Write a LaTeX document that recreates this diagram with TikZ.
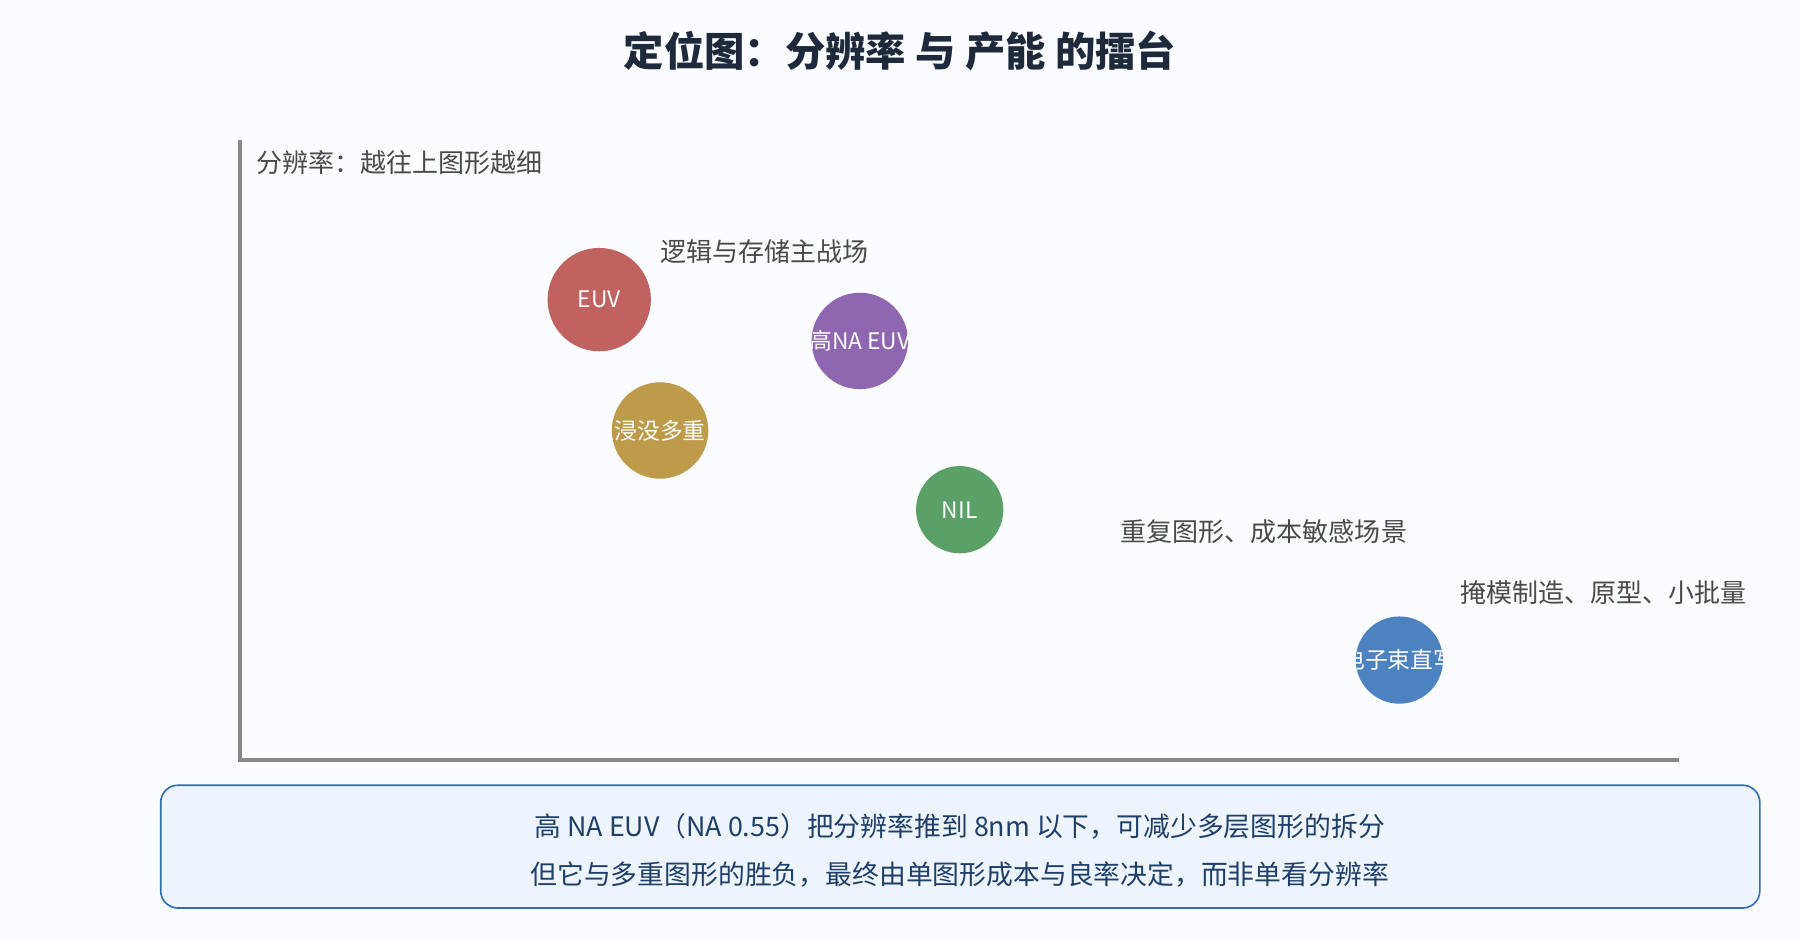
\documentclass[tikz,border=0pt]{standalone}
\usepackage{fontspec}
\setmainfont{Noto Sans CJK SC}
\definecolor{bg}{HTML}{FBFCFF}
\definecolor{ttl}{HTML}{1E293B}
\definecolor{ax}{HTML}{888888}
\definecolor{lbl}{HTML}{4A4A4A}
\definecolor{cEUV}{HTML}{C0625F}
\definecolor{cNA}{HTML}{8E67B0}
\definecolor{cIM}{HTML}{BE9B4A}
\definecolor{cNIL}{HTML}{5BA067}
\definecolor{cEB}{HTML}{4C82C0}
\definecolor{boxf}{HTML}{EEF4FE}
\definecolor{boxs}{HTML}{2F6DB5}
\definecolor{boxt}{HTML}{1F3F6B}
\begin{document}
\begin{tikzpicture}[x=0.02cm,y=-0.02cm,
  dot/.style={circle,inner sep=0,text=white,font=\fontsize{11.3}{13}\selectfont},
  note/.style={anchor=west,text=lbl,font=\fontsize{12.9}{15}\selectfont,inner sep=0}]
\fill[bg] (0,0) rectangle (1568,820);
\useasboundingbox (0,0) rectangle (1568,820);
\node[text=ttl,font=\fontsize{20}{24}\selectfont\bfseries] (title) at (784,44) {定位图：分辨率 与 产能 的擂台};
\coordinate (top) at (209,122); \coordinate (org) at (209,662); \coordinate (right) at (1463,662);
\draw[ax,line width=1.6pt] (top) -- (org) -- (right);
\node[note] (ylab) at (223,142) {分辨率：越往上图形越细};
\node[dot,fill=cEUV,minimum size=90*0.02cm] (euv) at (522,261) {EUV};
\begin{scope}
\clip (749,297) circle (42);
\node[dot,fill=cNA,minimum size=84*0.02cm] (na) at (749,297) {高NA EUV};
\end{scope}
\node[dot,fill=cIM,minimum size=84*0.02cm] (im) at (575,375) {浸没多重};
\node[dot,fill=cNIL,minimum size=76*0.02cm] (nil) at (836,444) {NIL};
\begin{scope}
\clip (1219,575) circle (38);
\node[dot,fill=cEB,minimum size=76*0.02cm] (eb) at (1219,575) {电子束直写};
\end{scope}
\node[note] (n1) at (575,219) {逻辑与存储主战场};
\node[note] (n2) at (976,463) {重复图形、成本敏感场景};
\node[note] (n3) at (1272,516) {掩模制造、原型、小批量};
\draw[boxs,fill=boxf,line width=0.8pt,rounded corners=0.3cm] (140,684) rectangle (1533,791);
\node[text=boxt,font=\fontsize{13.3}{15}\selectfont] (l1) at (836,720) {高 NA EUV（NA 0.55）把分辨率推到 8nm 以下，可减少多层图形的拆分};
\node[text=boxt,font=\fontsize{13.3}{15}\selectfont] (l2) at (836,762) {但它与多重图形的胜负，最终由单图形成本与良率决定，而非单看分辨率};
\end{tikzpicture}
\end{document}
